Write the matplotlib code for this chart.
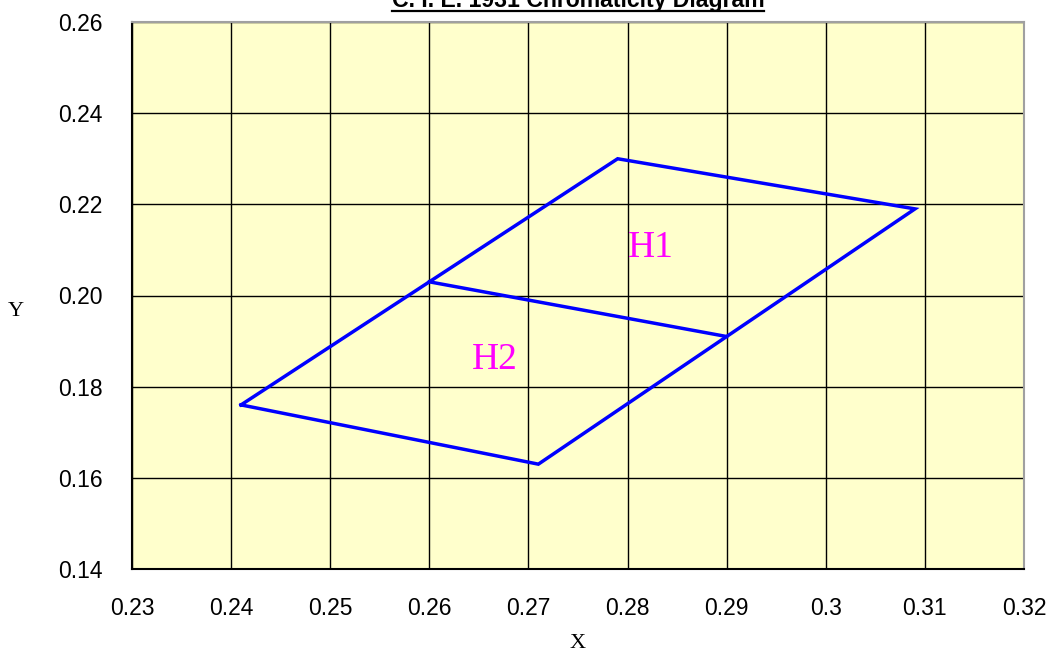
import matplotlib
matplotlib.use("Agg")
import matplotlib.pyplot as plt
from matplotlib.lines import Line2D

# outline of the H1/H2 region (closed polygon)
outline_x = [0.241, 0.279, 0.309, 0.271, 0.241]
outline_y = [0.176, 0.230, 0.219, 0.163, 0.176]

# dividing line between H1 and H2
divider_x = [0.260, 0.290]
divider_y = [0.203, 0.191]

region_labels = ["H1", "H2"]
label_x = [0.2823, 0.2666]
label_y = [0.2104, 0.1859]

x_ticks = [0.23, 0.24, 0.25, 0.26, 0.27, 0.28, 0.29, 0.30, 0.31, 0.32]
x_tick_labels = ["0.23", "0.24", "0.25", "0.26", "0.27", "0.28", "0.29", "0.3", "0.31", "0.32"]
y_ticks = [0.14, 0.16, 0.18, 0.20, 0.22, 0.24, 0.26]
y_tick_labels = ["0.14", "0.16", "0.18", "0.20", "0.22", "0.24", "0.26"]

W, H = 1049, 653
fig = plt.figure(figsize=(W / 100, H / 100), dpi=100)
left, right, top, bottom = 132, 1024, 22, 569
ax = fig.add_axes([left / W, 1 - bottom / H, (right - left) / W, (bottom - top) / H])
ax.set_facecolor("#FFFFCC")

ax.plot(outline_x, outline_y, color="#0000FF", lw=2.5, solid_joinstyle="miter", zorder=3)
ax.plot(divider_x, divider_y, color="#0000FF", lw=2.5, zorder=3)

for t, x, y in zip(region_labels, label_x, label_y):
    ax.text(x, y, t, color="#FF00FF", fontsize=27, family="Liberation Serif",
            ha="center", va="center", zorder=4)

ax.set_xlim(0.23, 0.32)
ax.set_ylim(0.14, 0.26)
ax.set_xticks(x_ticks)
ax.set_xticklabels(x_tick_labels)
ax.set_yticks(y_ticks)
ax.set_yticklabels(y_tick_labels)
ax.tick_params(length=0, labelsize=16.5, pad=20)
ax.tick_params(axis="y", pad=21)
for lab in ax.get_xticklabels() + ax.get_yticklabels():
    lab.set_family("Liberation Sans")
ax.grid(True, color="black", lw=1.0)
ax.set_axisbelow(True)

for s in ["top", "right"]:
    ax.spines[s].set_color("#A0A0A0")
    ax.spines[s].set_linewidth(1.5)
for s in ["left", "bottom"]:
    ax.spines[s].set_color("black")
    ax.spines[s].set_linewidth(1.5)

fig.text(578 / W, 1 - 643 / H, "X", family="Liberation Serif", fontsize=16,
         ha="center", va="center")
fig.text(16 / W, 1 - 312 / H, "Y", family="Liberation Serif", fontsize=16,
         ha="center", va="center")

# title is partly cut off at the top, underlined
title = fig.text(578 / W, 1 - 7 / H, "C. I. E. 1931 Chromaticity Diagram",
                 family="Liberation Sans", fontweight="bold", fontsize=16.6,
                 ha="center", va="baseline")
fig.canvas.draw()
bb = title.get_window_extent(fig.canvas.get_renderer())
uy = 1 - 10.5 / H
fig.add_artist(Line2D([bb.x0 / W, bb.x1 / W], [uy, uy], transform=fig.transFigure,
                      color="black", lw=1.6))

fig.savefig("out.png", dpi=100)
